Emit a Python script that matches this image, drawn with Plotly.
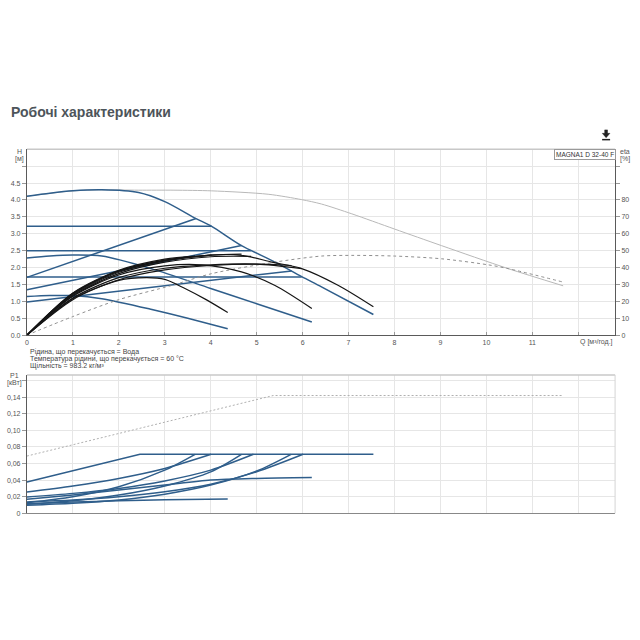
import plotly.graph_objects as go

# ---------------- DATA ----------------
# Head curves H [m] vs Q [m3/h] (blue)
max_q = [0, 0.5, 1.0, 1.63, 2.43, 3.0, 3.68, 4.02, 4.67, 5.39, 5.98, 6.41, 7.54]
max_h = [4.11, 4.2, 4.27, 4.30, 4.22, 3.95, 3.45, 3.22, 2.65, 2.17, 1.73, 1.43, 0.61]

cp1_q = [0, 4.02]; cp1_h = [3.22, 3.22]
pp1_q = [0, 3.68]; pp1_h = [1.71, 3.45]
cp2_q = [0, 4.88]; cp2_h = [2.50, 2.50]
pp2_q = [0, 4.67]; pp2_h = [1.34, 2.65]
cp3_q = [0, 5.98]; cp3_h = [1.72, 1.72]
pp3_q = [0, 5.76]; pp3_h = [0.98, 1.90]

sc1_q = [0, 0.5, 1.0, 1.63, 2.72, 4.0, 5.0, 6.2]
sc1_h = [2.28, 2.34, 2.37, 2.34, 1.96, 1.38, 0.93, 0.39]
sc2_q = [0, 0.5, 1.0, 1.63, 2.72, 3.5, 4.37]
sc2_h = [1.14, 1.17, 1.17, 1.08, 0.76, 0.5, 0.19]

# Twin-operation head curve (grey)
twin_q = [0, 1, 1.63, 2.43, 3.2, 4.02, 5.25, 5.98, 6.41, 7.07, 8.0, 9.02, 10.47, 11.67]
twin_h = [4.11, 4.27, 4.30, 4.29, 4.29, 4.27, 4.17, 4.01, 3.88, 3.59, 3.14, 2.65, 1.97, 1.46]

# Efficiency curves eta [%] vs Q (black)
eff_max_q = [0, 1, 2, 3, 4, 4.5, 4.89, 5.33, 5.98, 6.78, 7.54]
eff_max_e = [0, 24.4, 38.0, 44.4, 47.4, 47.6, 46.2, 43.2, 39.4, 29.4, 16.8]
eff_cp1_q = [0, 1, 2, 3, 4.02]; eff_cp1_e = [0, 24.8, 37.8, 44.2, 47.4]
eff_pp1_q = [0, 1, 2, 3, 3.66]; eff_pp1_e = [0, 25.0, 38.4, 45.0, 46.8]
eff_cp2_q = [0, 1, 2, 3, 4, 4.88]; eff_cp2_e = [0, 23.4, 36.4, 43.2, 46.4, 46.6]
eff_pp2_q = [0, 1, 2, 3, 4, 4.67]; eff_pp2_e = [0, 24.0, 37.2, 44.0, 47.4, 48.0]
eff_cp3_q = [0, 1, 2, 3, 4, 5, 5.98]; eff_cp3_e = [0, 22.0, 34.0, 39.6, 41.6, 42.0, 39.4]
eff_pp3_q = [0, 1, 2, 3, 4, 5, 5.76]; eff_pp3_e = [0, 21.0, 32.8, 38.6, 41.2, 42.0, 41.2]
eff_sc1_q = [0, 1, 2, 3, 3.8, 4.67, 5.4, 6.2]; eff_sc1_e = [0, 23.0, 35.6, 41.0, 41.6, 37.4, 29.4, 15.8]
eff_sc2_q = [0, 1, 2, 2.6, 3.0, 3.44, 3.9, 4.37]; eff_sc2_e = [0, 21.6, 32.4, 34.0, 33.0, 27.6, 21.0, 13.4]

# Twin-operation efficiency (grey dotted)
twin_eff_q = [0, 1, 2, 3.15, 4.02, 5.39, 6.41, 7.07, 8.0, 9.02, 10.04, 10.47, 11.67]
twin_eff_e = [0, 11.0, 21.0, 29.4, 36.4, 43.2, 46.8, 47.2, 46.8, 45.2, 41.6, 39.4, 31.4]

# Power P1 [kW] vs Q
p_max_q = [0, 2.46, 7.54]; p_max = [0.0377, 0.0711, 0.0711]
p_cp1_q = [0, 1, 2, 3, 4.01]; p_cp1 = [0.0257, 0.033, 0.042, 0.054, 0.0711]
p_pp1_q = [0, 1, 2, 3, 3.66]; p_pp1 = [0.0128, 0.020, 0.032, 0.052, 0.0711]
p_cp2_q = [0, 1, 2, 3, 4, 4.93]; p_cp2 = [0.0197, 0.024, 0.030, 0.039, 0.052, 0.0711]
p_pp2_q = [0, 1, 2, 3, 4, 4.67]; p_pp2 = [0.0108, 0.015, 0.022, 0.033, 0.050, 0.0711]
p_cp3_q = [0, 1, 2, 3, 4, 5, 6.01]; p_cp3 = [0.0137, 0.016, 0.020, 0.026, 0.035, 0.050, 0.0711]
p_pp3_q = [0, 1, 2, 3, 4, 5, 5.75]; p_pp3 = [0.0096, 0.012, 0.016, 0.023, 0.034, 0.051, 0.0711]
p_sc1_q = [0, 1, 2, 3, 4, 5, 6.2]; p_sc1 = [0.0168, 0.022, 0.028, 0.034, 0.040, 0.042, 0.043]
p_sc2_q = [0, 1, 2, 3, 4.37]; p_sc2 = [0.0116, 0.0135, 0.015, 0.0163, 0.0173]
p_twin_q = [0, 5.36, 11.67]; p_twin = [0.069, 0.142, 0.142]

q_ticks = list(range(0, 13))
q_labels = [str(v) for v in range(0, 12)] + [""]
h_ticks = [i * 0.5 for i in range(0, 11)]
h_labels = ["%.1f" % v for v in h_ticks[:-1]] + [""]
e_ticks = list(range(0, 101, 10))
e_labels = [str(v) for v in range(0, 81, 10)] + ["", ""]
p_ticks = [i * 0.02 for i in range(0, 9)]
p_labels = ["0"] + [("%.2f" % v).replace(".", ",") for v in p_ticks[1:-1]] + [""]

TITLE = "Робочі характеристики"
PUMP = "MAGNA1 D 32-40 F"
NOTES = ["Рідина, що перекачується = Вода",
         "Температура рідини, що перекачується = 60 °C",
         "Щільність = 983.2 кг/м³"]

# ---------------- FIGURE ----------------
BLUE = "#2f5e8b"
BLACK = "#151515"
GRID = "#e6e6e6"
AX = "#5a5a5a"
TXT = "#555555"
FONT = "Liberation Sans"

def PX(x):
    return x / 640.0

def PY(y):
    return 1 - y / 640.0

fig = go.Figure()

def add(q, v, color, width, xa, ya, shape="linear", dash="solid"):
    fig.add_trace(go.Scatter(x=q, y=v, mode="lines", xaxis=xa, yaxis=ya,
                             line=dict(color=color, width=width, shape=shape,
                                       dash=dash, smoothing=0.8),
                             hoverinfo="skip", showlegend=False))

# grey twin curves
add(twin_q, twin_h, "#b8b8b8", 1, "x", "y", "spline")
add(twin_eff_q, twin_eff_e, "#8f8f8f", 1, "x", "y2", "spline", "dot")

# blue head curves
add(max_q, max_h, BLUE, 1.5, "x", "y", "spline")
for q, h in [(cp1_q, cp1_h), (pp1_q, pp1_h), (cp2_q, cp2_h), (pp2_q, pp2_h),
             (cp3_q, cp3_h), (pp3_q, pp3_h)]:
    add(q, h, BLUE, 1.5, "x", "y")
add(sc1_q, sc1_h, BLUE, 1.5, "x", "y", "spline")
add(sc2_q, sc2_h, BLUE, 1.5, "x", "y", "spline")

# black efficiency curves
for q, e in [(eff_max_q, eff_max_e), (eff_cp1_q, eff_cp1_e), (eff_pp1_q, eff_pp1_e),
             (eff_cp2_q, eff_cp2_e), (eff_pp2_q, eff_pp2_e), (eff_cp3_q, eff_cp3_e),
             (eff_pp3_q, eff_pp3_e), (eff_sc1_q, eff_sc1_e), (eff_sc2_q, eff_sc2_e)]:
    add(q, e, BLACK, 1.2, "x", "y2", "spline")

# power curves
add(p_twin_q, p_twin, "#b0b0b0", 1, "x2", "y3", "linear", "2px,2px")
add(p_max_q, p_max, BLUE, 1.5, "x2", "y3", "linear")
for q, p in [(p_cp1_q, p_cp1), (p_pp1_q, p_pp1), (p_cp2_q, p_cp2),
             (p_pp2_q, p_pp2), (p_cp3_q, p_cp3), (p_pp3_q, p_pp3), (p_sc1_q, p_sc1),
             (p_sc2_q, p_sc2)]:
    add(q, p, BLUE, 1.5, "x2", "y3", "spline")

tickfont = dict(family=FONT, size=7, color=TXT)
xdom = [PX(25), PX(615)]

fig.update_layout(
    width=640, height=640, autosize=False,
    margin=dict(l=0, r=0, t=0, b=0),
    paper_bgcolor="white", plot_bgcolor="white",
    font=dict(family=FONT, color=TXT),
    xaxis=dict(domain=xdom, anchor="y", range=[0, 12.8], tickvals=q_ticks,
               ticktext=q_labels, showgrid=True, gridcolor=GRID, zeroline=False,
               showline=True, linecolor=AX, linewidth=1, ticks="inside",
               ticklen=3, tickcolor="#999", tickfont=tickfont),
    yaxis=dict(domain=[PY(336.7), PY(150)], anchor="x", range=[0, 5.5],
               tickvals=h_ticks, ticktext=h_labels, showgrid=True, gridcolor=GRID,
               zeroline=False, showline=True, linecolor=AX, linewidth=1,
               ticks="outside", ticklen=4, tickcolor="#999", tickfont=tickfont),
    yaxis2=dict(overlaying="y", side="right", anchor="x", range=[0, 110],
                tickvals=e_ticks, ticktext=e_labels, showgrid=False, zeroline=False,
                showline=True, linecolor=AX, linewidth=1, ticks="outside",
                ticklen=4, tickcolor="#999", tickfont=tickfont),
    xaxis2=dict(domain=xdom, anchor="y3", range=[0, 12.8], tickvals=q_ticks,
                showticklabels=False, showgrid=True, gridcolor=GRID, zeroline=False,
                showline=True, linecolor="#888", linewidth=1, ticks=""),
    yaxis3=dict(domain=[PY(515.7), PY(376.7)], anchor="x2", range=[0, 0.1668],
                tickvals=p_ticks, ticktext=p_labels, showgrid=True, gridcolor=GRID,
                zeroline=False, showline=True, linecolor=AX, linewidth=1,
                ticks="outside", ticklen=4, tickcolor="#999", tickfont=tickfont),
)

shapes = [
    dict(type="line", xref="paper", yref="paper", x0=PX(25), x1=PX(615),
         y0=PY(150), y1=PY(150), line=dict(color="#c8c8c8", width=1.5)),
    dict(type="line", xref="paper", yref="paper", x0=PX(25), x1=PX(615),
         y0=PY(376.7), y1=PY(376.7), line=dict(color="#c8c8c8", width=1.5)),
    dict(type="line", xref="paper", yref="paper", x0=PX(615), x1=PX(615),
         y0=PY(376.7), y1=PY(515.7), line=dict(color="#d5d5d5", width=1)),
    # download icon
    dict(type="path", xref="paper", yref="paper",
         path="M %f %f L %f %f L %f %f L %f %f L %f %f L %f %f L %f %f Z" % (
             PX(604.6), PY(130.5), PX(607.4), PY(130.5), PX(607.4), PY(134),
             PX(609.8), PY(134), PX(606), PY(138.3), PX(602.2), PY(134),
             PX(604.6), PY(134)),
         fillcolor="#222", line=dict(color="#222", width=0.5)),
    dict(type="line", xref="paper", yref="paper", x0=PX(602), x1=PX(610),
         y0=PY(140.3), y1=PY(140.3), line=dict(color="#222", width=1.5)),
]
fig.update_layout(shapes=shapes)

small = dict(family=FONT, size=7, color=TXT)
ann = [
    dict(text="<b>%s</b>" % TITLE, x=PX(7), y=PY(113), xanchor="left", yanchor="middle",
         font=dict(family="Liberation Sans", size=14, color="#4d545a")),
    dict(text="H", x=PX(18), y=PY(152.5), xanchor="center", yanchor="middle", font=small),
    dict(text="[м]", x=PX(18), y=PY(159.5), xanchor="center", yanchor="middle", font=small),
    dict(text="eta", x=PX(618), y=PY(152.5), xanchor="left", yanchor="middle", font=small),
    dict(text="[%]", x=PX(618), y=PY(159.5), xanchor="left", yanchor="middle", font=small),
    dict(text="P1", x=PX(13), y=PY(377), xanchor="center", yanchor="middle", font=small),
    dict(text="[кВт]", x=PX(13), y=PY(385), xanchor="center", yanchor="middle", font=small),
    dict(text="Q [м³/год.]", x=PX(596), y=PY(343.5), xanchor="center", yanchor="middle",
         font=small),
    dict(text=PUMP, x=PX(584.5), y=PY(155), xanchor="center", yanchor="middle",
         font=dict(family=FONT, size=6.5, color="#333"), bgcolor="white",
         bordercolor="#999", borderwidth=1, borderpad=1),
]
for i, t in enumerate(NOTES):
    ann.append(dict(text=t, x=PX(26), y=PY(353.5 + i * 7.3), xanchor="left",
                    yanchor="middle", font=dict(family=FONT, size=7, color="#444")))
for a in ann:
    a.update(xref="paper", yref="paper", showarrow=False)
fig.update_layout(annotations=ann)

fig.write_html("out.html")
